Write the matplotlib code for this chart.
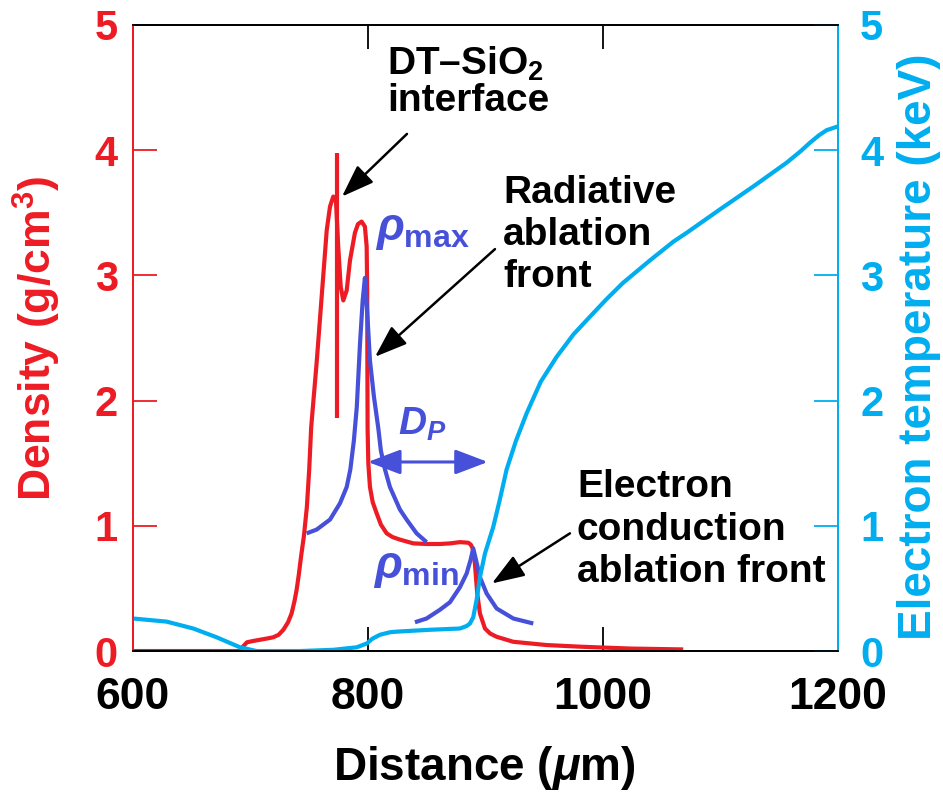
import numpy as np
from matplotlib import pyplot as plt

plt.rcParams['font.family'] = ['Liberation Sans', 'DejaVu Sans']
plt.rcParams['font.weight'] = 'bold'
plt.rcParams['mathtext.fontset'] = 'custom'
plt.rcParams['mathtext.rm'] = 'Liberation Sans:bold'
plt.rcParams['mathtext.bf'] = 'Liberation Sans:bold'
plt.rcParams['mathtext.it'] = 'Liberation Sans:italic:bold'

RED = '#ED1C24'
BLUE = '#4650D8'
CYAN = '#00AEEF'

# density profile (g/cm3) vs distance (um)
dens_x = [600, 691, 694, 697, 702, 708, 714, 719.4, 724, 728, 732, 735, 737.5, 739.3, 741,
          743, 745.5, 748, 750, 751.7, 756.3, 760.6, 764.9, 767.7, 770.5, 772.8, 774.7, 776.8, 779,
          781.9, 784.7, 788.9, 791.5, 794.6, 797.4, 798.9, 799.4, 799.5, 799.7, 800.3, 801.7,
          804, 807.4, 811, 815.9, 821, 827.2, 838.6, 850, 861.3, 870, 878.3, 885.4, 887.5,
          889.1, 891, 893, 895.3, 899.6, 904, 909.5, 923.7, 952, 980.4, 1023, 1068.3]
dens_y = [0, 0, 0.04, 0.07, 0.08, 0.09, 0.10, 0.11, 0.13, 0.17, 0.23, 0.30, 0.40, 0.49, 0.60,
          0.75, 0.92, 1.15, 1.45, 1.79, 2.30, 2.83, 3.36, 3.55, 3.63, 3.59, 3.23, 2.91, 2.80,
          2.88, 3.12, 3.34, 3.41, 3.43, 3.39, 3.23, 2.83, 2.30, 1.77, 1.50, 1.31,
          1.19, 1.10, 1.01, 0.94, 0.91, 0.89, 0.86, 0.855, 0.855, 0.86, 0.87, 0.865, 0.85,
          0.82, 0.70, 0.46, 0.30, 0.18, 0.14, 0.114, 0.074, 0.048, 0.035, 0.02, 0.013]

# DT-SiO2 interface jump
spike_x = [773.6, 773.6]
spike_y = [1.86, 3.98]

# rho_max fit around radiative ablation front
rmax_x = [747.8, 756.3, 767.7, 776.2, 781.9, 785, 788, 790.5, 793.2, 795.5, 797.4,
          799.4, 801.7, 805.1, 808.8, 811, 814.5, 818.7, 827.2, 832.9, 841.4, 849.9]
rmax_y = [0.94, 0.97, 1.05, 1.18, 1.31, 1.45, 1.68, 1.95, 2.45, 2.80, 2.98,
          2.70, 2.32, 2.03, 1.78, 1.60, 1.45, 1.31, 1.13, 1.05, 0.94, 0.87]

# rho_min fit around electron conduction ablation front
rmin_x = [840, 849.9, 861.3, 869.8, 878.3, 884, 887.4, 889.6, 891.9, 895.3, 901, 909.5, 923.7, 940.7]
rmin_y = [0.23, 0.26, 0.33, 0.39, 0.51, 0.62, 0.73, 0.82, 0.73, 0.59, 0.46, 0.34, 0.26, 0.22]

# electron temperature (keV)
te_x = [600, 628.7, 651.3, 671.2, 691.1, 705.3, 742, 770.5, 790.4, 798.9, 804, 810.2, 818.7, 824.4,
        852.8, 878.3, 884, 886.8, 889.6, 892.5, 895.3, 899.6, 906.6, 912, 918, 926, 935.1, 947,
        960.6, 975, 988.9, 1003, 1017, 1040, 1060, 1071.2, 1100, 1127.9, 1156.3, 1168, 1176.2,
        1184, 1190.4, 1200]
te_y = [0.26, 0.235, 0.18, 0.11, 0.03, 0.0, 0.0, 0.01, 0.03, 0.06, 0.10, 0.13, 0.15, 0.155,
        0.17, 0.18, 0.20, 0.22, 0.27, 0.41, 0.59, 0.78, 0.99, 1.2, 1.45, 1.68, 1.9, 2.15,
        2.35, 2.53, 2.67, 2.81, 2.94, 3.12, 3.27, 3.34, 3.53, 3.71, 3.90, 3.99, 4.06,
        4.12, 4.16, 4.19]

# D_P span
dp_x = [800, 902]
dp_y = 1.51

x_ticks = [600, 800, 1000, 1200]
y_ticks = [0, 1, 2, 3, 4, 5]

fig = plt.figure(figsize=(9.43, 7.93), dpi=100)
ax = fig.add_axes([0.141, 0.179, 0.7476, 0.7895])
ax2 = ax.twinx()

ax.plot(dens_x, dens_y, color=RED, lw=3.0, solid_capstyle='butt', solid_joinstyle='round')
ax.plot(spike_x, spike_y, color=RED, lw=3.0, solid_capstyle='butt')
ax.plot(rmax_x, rmax_y, color=BLUE, lw=3.0, solid_capstyle='butt', solid_joinstyle='round')
ax.plot(rmin_x, rmin_y, color=BLUE, lw=3.0, solid_capstyle='butt', solid_joinstyle='round')
ax2.plot(te_x, te_y, color=CYAN, lw=3.0, solid_joinstyle='round')

ax.set_xlim(600, 1200)
ax.set_ylim(0, 5)
ax2.set_ylim(0, 5)
ax.set_xticks(x_ticks)
ax.set_yticks(y_ticks)
ax2.set_yticks(y_ticks)

ax.tick_params(axis='x', direction='in', length=17, width=1.3, top=True, bottom=True,
               labelsize=32, pad=19, colors='black')
ax.tick_params(axis='y', direction='in', length=17, width=1.3, left=True, right=False,
               labelsize=30, pad=11, colors=RED)
ax2.tick_params(axis='y', direction='in', length=17, width=1.3, labelsize=30, pad=16, colors=CYAN)
for lab in ax.get_xticklabels() + ax.get_yticklabels() + ax2.get_yticklabels():
    lab.set_fontweight('bold')

for a in (ax, ax2):
    a.spines['top'].set_color('black')
    a.spines['bottom'].set_color('black')
    a.spines['left'].set_color(RED)
    a.spines['right'].set_color(CYAN)
    for s in a.spines.values():
        s.set_linewidth(1.3)

ax.text(-0.136, 0.5, 'Density (g/cm$^3$)', transform=ax.transAxes, rotation=90,
        ha='center', va='center', fontsize=32, color=RED)
ax.text(1.115, 0.486, 'Electron temperature (keV)', transform=ax.transAxes, rotation=90,
        ha='center', va='center', fontsize=33, color=CYAN)
ax.text(0.499, -0.186, r'Distance ($\mu$m)', transform=ax.transAxes,
        ha='center', va='center', fontsize=33, color='black')

# annotations
ax2.text(816.2, 4.60, 'DT–SiO$_2$', fontsize=28, ha='left', va='baseline')
ax2.text(816.2, 4.31, 'interface', fontsize=28, ha='left', va='baseline')
for i, line in enumerate(['Radiative', 'ablation', 'front']):
    ax2.text(914.9, 3.58 - i * 0.335, line, fontsize=28, ha='left', va='baseline')
for i, line in enumerate(['Electron', 'conduction', 'ablation front']):
    ax2.text(977.9, 1.23 - i * 0.34, line, fontsize=28, ha='left', va='baseline')

ax2.text(806, 3.28, r'$\rho_{\mathrm{max}}$', fontsize=33, color=BLUE, ha='left', va='baseline')
ax2.text(804, 0.58, r'$\rho_{\mathrm{min}}$', fontsize=33, color=BLUE, ha='left', va='baseline')
ax2.text(825.5, 1.73, r'$D_P$', fontsize=28, color=BLUE, ha='left', va='baseline')

arrow_kw = dict(arrowstyle='-|>,head_length=1.0,head_width=0.36', mutation_scale=20,
                lw=1.8, color='black', shrinkA=0, shrinkB=0)
ax2.annotate('', xy=(777.9, 3.63), xytext=(833.2, 4.13), arrowprops=arrow_kw)
ax2.annotate('', xy=(806, 2.35), xytext=(908.1, 3.21), arrowprops=arrow_kw)
ax2.annotate('', xy=(905.5, 0.54), xytext=(971.9, 0.94), arrowprops=arrow_kw)
ax2.annotate('', xy=(dp_x[1], dp_y), xytext=(dp_x[0], dp_y),
             arrowprops=dict(arrowstyle='<|-|>,head_length=1.0,head_width=0.38', mutation_scale=20,
                             lw=2.2, color=BLUE, shrinkA=0, shrinkB=0))

fig.savefig('out.png', dpi=100)
